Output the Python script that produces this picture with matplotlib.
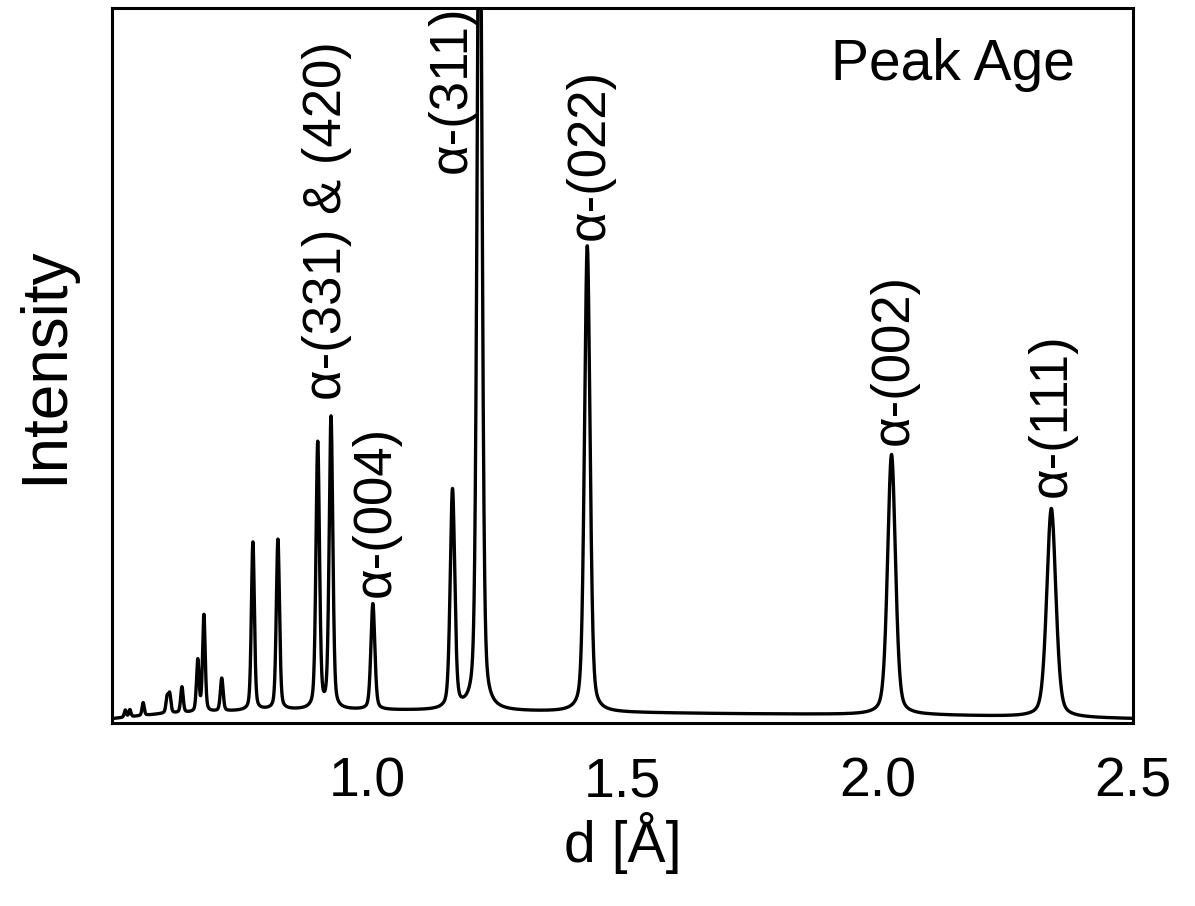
import matplotlib
matplotlib.use('Agg')
import matplotlib.pyplot as plt
import numpy as np

plt.rcParams['font.family'] = ['Liberation Sans', 'DejaVu Sans']

# peak positions d [A] and peak amplitudes (normalised intensity)
peak_d = [0.526, 0.535, 0.561, 0.608, 0.613, 0.637, 0.668, 0.680, 0.715, 0.776,
          0.825, 0.903, 0.929, 1.011, 1.167, 1.220, 1.431, 2.027, 2.340]
peak_h = [0.010, 0.010, 0.018, 0.022, 0.026, 0.036, 0.072, 0.135, 0.046, 0.235,
          0.238, 0.372, 0.408, 0.148, 0.306, 1.300, 0.652, 0.364, 0.292]

# background level
bg_d = [0.50, 0.60, 0.80, 1.00, 1.30, 1.70, 2.10, 2.50]
bg_i = [0.006, 0.013, 0.018, 0.018, 0.016, 0.013, 0.011, 0.006]

# labels: text, x (d), bottom of text (intensity)
labels = ['α-(331) & (420)', 'α-(004)', 'α-(311)', 'α-(022)', 'α-(002)', 'α-(111)']
label_x = [0.922, 1.016, 1.165, 1.435, 2.031, 2.340]
label_y = [0.452, 0.176, 0.769, 0.676, 0.389, 0.316]

fwhm_rel = 0.009
eta = 0.35


def pseudo_voigt(x, x0, h, fwhm):
    sig = fwhm / 2.355
    g = np.exp(-0.5 * ((x - x0) / sig) ** 2)
    lo = 1.0 / (1.0 + ((x - x0) / (fwhm / 2)) ** 2)
    return h * ((1 - eta) * g + eta * lo)


d = np.linspace(0.5, 2.5, 12000)
inten = np.interp(d, bg_d, bg_i)
for p, h in zip(peak_d, peak_h):
    inten = inten + pseudo_voigt(d, p, h, fwhm_rel * p)

fig = plt.figure(figsize=(11.95, 9.06), dpi=100)
ax = fig.add_axes([112 / 1195, 183 / 906, 1021 / 1195, 715 / 906])
ax.plot(d, inten, color='black', linewidth=2.4)
ax.set_xlim(0.5, 2.5)
ax.set_ylim(0, 1)

ax.set_xticks([1.0, 1.5, 2.0, 2.5])
ax.set_xticklabels(['1.0', '1.5', '2.0', '2.5'])
ax.set_yticks([])
ax.tick_params(axis='x', length=0, pad=24, labelsize=40)
for s in ax.spines.values():
    s.set_linewidth(2.2)

ax.set_xlabel('d [Å]', fontsize=41)
ax.xaxis.set_label_coords(0.5, -0.125)
ax.xaxis.label.set_va('top')
ax.set_ylabel('Intensity', fontsize=46)
ax.yaxis.set_label_coords(-0.036, 0.5)

for t, x, y in zip(labels, label_x, label_y):
    ax.text(x, y, t, rotation=90, ha='center', va='bottom', fontsize=38)

ax.text(0.943, 0.92, 'Peak Age', transform=ax.transAxes, ha='right', va='center', fontsize=41)

fig.savefig('out.png', dpi=100)
